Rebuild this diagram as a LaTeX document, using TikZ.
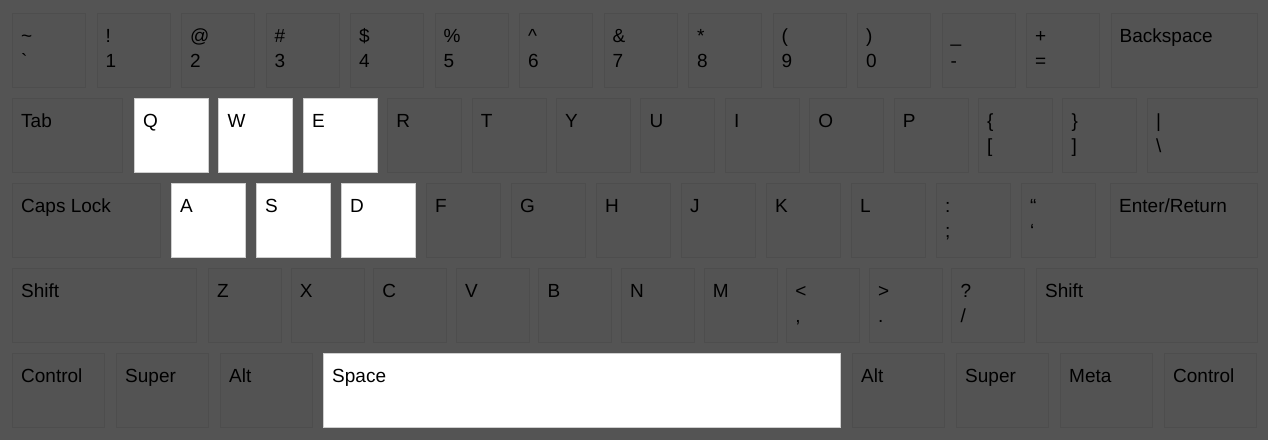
\documentclass[tikz,border=0pt]{standalone}
\usepackage{fontspec}
\setmainfont{Liberation Sans}
\usepackage{xcolor}
\definecolor{deskgrey}{HTML}{545454}
\definecolor{capgrey}{HTML}{535353}
\definecolor{capedge}{HTML}{4D4D4D}
\definecolor{litedge}{HTML}{CFCFCF}

\begin{document}
\begin{tikzpicture}[
        x=1pt, y=-1pt,
        font=\fontsize{19}{22}\selectfont,
        % Styles for the key caps
        keycap/.style={
            rectangle, draw=capedge, fill=capgrey, line width=0.45pt,
            anchor=north west, inner sep=0pt,
            minimum width=#1, minimum height=74pt
        },
        litcap/.style={keycap=#1, draw=litedge, fill=white},
        captext/.style={
            anchor=base west, inner sep=0pt, text=black,
            xshift=9pt, yshift=-29pt
        },
        lowtext/.style={
            anchor=base west, inner sep=0pt, text=black,
            xshift=9pt, yshift=-54pt
        }
    ]

    % 0. BACKGROUND
    \fill[deskgrey] (0,0) rectangle (1268,440);
    \useasboundingbox (0,0) rectangle (1268,440);

    % 1. NUMBER ROW
    \foreach \name/\top/\bot [count=\i from 0] in {grave/\textasciitilde/\textasciigrave,
            one/!/1, two/@/2, three/\#/3, four/\$/4, five/\%/5, six/\textasciicircum/6,
            seven/\&/7, eight/*/8, nine/{(}/9, zero/{)}/0, minus/\_/-, equal/+/=} {
        \node[keycap=73pt] (\name) at ({12+84.5*\i},13) {};
        \node[captext] (\name-t) at (\name.north west) {\top};
        \node[lowtext] (\name-b) at (\name.north west) {\bot};
    }
    \node[keycap=146.5pt] (backspace) at (1110.5,13) {};
    \node[captext] (backspace-t) at (backspace.north west) {Backspace};

    % 2. TOP LETTER ROW
    \node[keycap=110pt] (tab) at (12,98) {};
    \node[captext] (tab-t) at (tab.north west) {Tab};

    \node[litcap=74pt] (q) at (134,98) {};
    \node[litcap=74pt] (w) at (218.4,98) {};
    \node[litcap=74pt] (e) at (302.8,98) {};
    \node[captext] (q-t) at (q.north west) {Q};
    \node[captext] (w-t) at (w.north west) {W};
    \node[captext] (e-t) at (e.north west) {E};

    \foreach \name/\top [count=\i from 3] in {r/R, t/T, y/Y, u/U, i/I, o/O, p/P} {
        \node[keycap=74pt] (\name) at ({134+84.4*\i},98) {};
        \node[captext] (\name-t) at (\name.north west) {\top};
    }
    \foreach \name/\top/\bot [count=\i from 10] in {lbrack/\{/{[}, rbrack/\}/{]}} {
        \node[keycap=74pt] (\name) at ({134+84.4*\i},98) {};
        \node[captext] (\name-t) at (\name.north west) {\top};
        \node[lowtext] (\name-b) at (\name.north west) {\bot};
    }
    \node[keycap=110pt] (backslash) at (1147,98) {};
    \node[captext] (backslash-t) at (backslash.north west) {|};
    \node[lowtext] (backslash-b) at (backslash.north west) {\textbackslash};

    % 3. HOME ROW
    \node[keycap=148pt] (capslock) at (12,183) {};
    \node[captext] (capslock-t) at (capslock.north west) {Caps Lock};

    \node[litcap=74pt] (a) at (171,183) {};
    \node[litcap=74pt] (s) at (256,183) {};
    \node[litcap=74pt] (d) at (341,183) {};
    \node[captext] (a-t) at (a.north west) {A};
    \node[captext] (s-t) at (s.north west) {S};
    \node[captext] (d-t) at (d.north west) {D};

    \foreach \name/\top [count=\i from 3] in {f/F, g/G, h/H, j/J, k/K, l/L} {
        \node[keycap=74pt] (\name) at ({171+85*\i},183) {};
        \node[captext] (\name-t) at (\name.north west) {\top};
    }
    \foreach \name/\top/\bot [count=\i from 9] in {semicolon/:/;, quote/“/‘} {
        \node[keycap=74pt] (\name) at ({171+85*\i},183) {};
        \node[captext] (\name-t) at (\name.north west) {\top};
        \node[lowtext] (\name-b) at (\name.north west) {\bot};
    }
    \node[keycap=147pt] (enter) at (1110,183) {};
    \node[captext] (enter-t) at (enter.north west) {Enter/Return};

    % 4. BOTTOM LETTER ROW
    \node[keycap=184pt] (lshift) at (12,268) {};
    \node[captext] (lshift-t) at (lshift.north west) {Shift};

    \foreach \name/\top [count=\i from 0] in {z/Z, x/X, c/C, v/V, b/B, n/N, m/M} {
        \node[keycap=73pt] (\name) at ({208+82.6*\i},268) {};
        \node[captext] (\name-t) at (\name.north west) {\top};
    }
    \foreach \name/\top/\bot [count=\i from 7] in {comma/</{,}, period/>/., slash/?/{/}} {
        \node[keycap=73pt] (\name) at ({208+82.6*\i},268) {};
        \node[captext] (\name-t) at (\name.north west) {\top};
        \node[lowtext] (\name-b) at (\name.north west) {\bot};
    }
    \node[keycap=221pt] (rshift) at (1036,268) {};
    \node[captext] (rshift-t) at (rshift.north west) {Shift};

    % 5. MODIFIER ROW
    \foreach \name/\top [count=\i from 0] in {lctrl/Control, lsuper/Super, lalt/Alt} {
        \node[keycap=92pt] (\name) at ({12+104*\i},353) {};
        \node[captext] (\name-t) at (\name.north west) {\top};
    }
    \node[litcap=517pt] (space) at (323,353) {};
    \node[captext] (space-t) at (space.north west) {Space};
    \foreach \name/\top [count=\i from 0] in {ralt/Alt, rsuper/Super, meta/Meta, rctrl/Control} {
        \node[keycap=92pt] (\name) at ({852+104*\i},353) {};
        \node[captext] (\name-t) at (\name.north west) {\top};
    }

    \end{tikzpicture}
\end{document}
